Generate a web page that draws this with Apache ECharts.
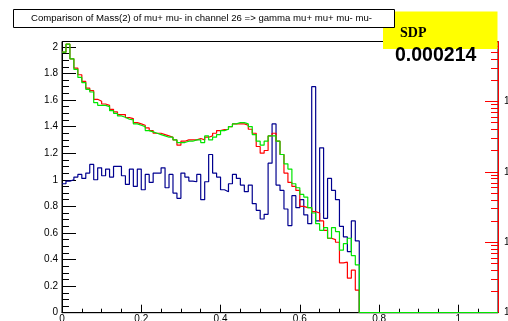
<!DOCTYPE html>
<html><head><meta charset="utf-8">
<script src="https://cdn.jsdelivr.net/npm/echarts@6/dist/echarts.min.js"></script>
<style>html,body{margin:0;padding:0;background:#fff}#c{width:508px;height:321px}</style>
</head><body><div id="c"></div>
<script>
// histogram bins: width 0.01 starting at 0; bins beyond listed values are empty
const binWidth = 0.01;
const xMax = 1.1;
const redValues = [1.96,2.02,1.91,1.84,1.79,1.74,1.69,1.67,1.605,1.59,1.57,1.56,1.53,1.51,1.49,1.49,1.467,1.46,1.43,1.42,
  1.41,1.39,1.37,1.35,1.35,1.34,1.33,1.32,1.30,1.26,1.29,1.30,1.30,1.30,1.31,1.30,1.32,1.33,1.35,1.37,
  1.377,1.38,1.40,1.42,1.42,1.42,1.41,1.38,1.35,1.25,1.20,1.22,1.33,1.35,1.29,1.19,1.05,0.98,0.95,0.92,
  0.80,0.79,0.79,0.76,0.75,0.69,0.62,0.56,0.55,0.53,0.375,0.38,0.26,0.32,0.17];
const greenValues = [1.96,2.02,1.91,1.83,1.77,1.73,1.68,1.66,1.58,1.56,1.56,1.55,1.52,1.50,1.48,1.47,1.455,1.45,1.42,1.41,
  1.40,1.37,1.36,1.35,1.34,1.33,1.32,1.32,1.30,1.28,1.28,1.29,1.29,1.30,1.30,1.28,1.33,1.30,1.32,1.34,
  1.37,1.38,1.40,1.42,1.43,1.43,1.42,1.40,1.34,1.29,1.26,1.29,1.33,1.33,1.29,1.19,1.12,1.08,0.97,0.94,
  0.89,0.87,0.79,0.75,0.67,0.62,0.64,0.56,0.64,0.61,0.47,0.52,0.56,0.43,0.36];
const blueValues = [0.97,0.99,1.00,1.02,1.04,1.01,1.05,1.115,1.00,1.09,1.03,1.08,1.02,1.10,1.10,1.03,0.965,1.08,0.95,1.08,
  0.925,1.04,0.98,1.05,1.05,1.09,0.94,1.04,0.90,0.86,1.05,1.02,0.99,0.985,1.04,0.85,0.985,1.19,1.05,1.02,
  0.925,0.91,0.97,1.04,1.01,0.96,0.91,0.96,0.82,0.77,0.705,0.74,1.125,1.42,0.96,0.92,0.78,0.655,0.88,0.79,
  0.85,0.736,0.67,1.70,0.69,1.24,0.71,1.01,0.92,0.85,0.65,0.57,0.46,0.69,0.54];
const xTickLabels = [0,0.2,0.4,0.6,0.8,1];
const xMinorTicks = [0.05,0.1,0.15,0.25,0.3,0.35,0.45,0.5,0.55,0.65,0.7,0.75,0.85,0.9,0.95,1.05];
const yTickLabels = [0,0.2,0.4,0.6,0.8,1,1.2,1.4,1.6,1.8,2];
const yMinorTicks = [0.05,0.1,0.15,0.25,0.3,0.35,0.45,0.5,0.55,0.65,0.7,0.75,0.85,0.9,0.95,1.05,1.1,1.15,1.25,1.3,1.35,1.45,1.5,1.55,1.65,1.7,1.75,1.85,1.9,1.95];
const logMajor = [1,10,100,1000];
const logMinor = [2,3,4,5,6,7,8,9,20,30,40,50,60,70,80,90,200,300,400,500,600,700,800,900,2000,3000,4000,5000,6000,7000];
const yMax = 2.04;
const logMax = 7100;
const titleText = 'Comparison of Mass(2) of mu+ mu- in channel 26 => gamma mu+ mu+ mu- mu-';
const sdpLabel = 'SDP';
const sdpValue = '0.000214';

function histData(vals){
  const nBins = Math.round(xMax/binWidth);
  const d = [];
  for (let i=0;i<nBins;i++){
    const v = i < vals.length ? vals[i] : 0;
    d.push([+(i*binWidth).toFixed(4), v]);
  }
  d.push([xMax, 0]);
  return d;
}
const F = 'Liberation Sans, Arial, Helvetica, sans-serif';
const chart = echarts.init(document.getElementById('c'), null, {renderer:'canvas'});
const mk = (name,color,vals)=>({name, type:'line', step:'end', xAxisIndex:0, yAxisIndex:0, data:histData(vals),
  symbol:'none', lineStyle:{color, width:1.2}, itemStyle:{color}, animation:false, silent:true, clip:true});
chart.setOption({
  animation:false,
  grid:{left:62, right:10, top:41.5, bottom:8.3, outerBoundsMode:'none', containLabel:false, show:true, borderColor:'#000', borderWidth:1, backgroundColor:'#fff'},
  xAxis:[
    {type:'value', min:0, max:xMax, position:'bottom',
     axisLine:{lineStyle:{color:'#000', width:1}},
     axisTick:{inside:true, length:8, customValues:xTickLabels, lineStyle:{color:'#000'}},
     axisLabel:{customValues:xTickLabels, margin:2, fontSize:10, color:'#000', fontFamily:F,
        formatter:v=>String(v)},
     splitLine:{show:false}},
    {type:'value', min:0, max:xMax, position:'bottom',
     axisLine:{show:false},
     axisTick:{inside:true, length:4, customValues:xMinorTicks, lineStyle:{color:'#000'}},
     axisLabel:{show:false}, splitLine:{show:false}}
  ],
  yAxis:[
    {type:'value', min:0, max:yMax, position:'left',
     axisLine:{lineStyle:{color:'#000'}},
     axisTick:{inside:true, length:14, customValues:yTickLabels, lineStyle:{color:'#000'}},
     axisLabel:{customValues:yTickLabels, margin:4, fontSize:10, color:'#000', fontFamily:F, formatter:v=>String(v)},
     splitLine:{show:false}},
    {type:'value', min:0, max:yMax, position:'left',
     axisLine:{show:false},
     axisTick:{inside:true, length:7, customValues:yMinorTicks, lineStyle:{color:'#000'}},
     axisLabel:{show:false}, splitLine:{show:false}},
    {type:'log', logBase:10, min:1, max:logMax, position:'right',
     axisLine:{lineStyle:{color:'#ff0000'}},
     axisTick:{inside:true, length:13, customValues:logMajor, lineStyle:{color:'#ff0000'}},
     axisLabel:{customValues:logMajor, margin:6, fontSize:10, color:'#000', fontFamily:F, formatter:v=>String(v), padding:[10,0,0,0]},
     splitLine:{show:false}},
    {type:'log', logBase:10, min:1, max:logMax, position:'right',
     axisLine:{show:false},
     axisTick:{inside:true, length:7, customValues:logMinor, lineStyle:{color:'#ff0000'}},
     axisLabel:{show:false}, splitLine:{show:false}}
  ],
  series:[
    mk('blue','#00008f',blueValues),
    mk('red','#ff0000',redValues),
    mk('green','#00e600',greenValues)
  ],
  graphic:[
    {type:'rect', z:100, shape:{x:383, y:11.5, width:114.5, height:37.5}, style:{fill:'#ffff00'}},
    {type:'text', z:101, style:{x:400, y:26, text:sdpLabel, font:'bold 14px "Liberation Serif", "Times New Roman", serif', fill:'#000', textVerticalAlign:'alphabetic'}},
    {type:'text', z:101, style:{x:395, y:45.7, text:sdpValue, font:'bold 19.5px "Liberation Sans", Arial, sans-serif', fill:'#000', textVerticalAlign:'alphabetic'}},
    {type:'rect', z:102, shape:{x:13.5, y:9.5, width:381, height:18}, style:{fill:'#fff', stroke:'#000', lineWidth:1}},
    {type:'text', z:103, style:{x:201.5, y:18.5, text:titleText, font:'9.6px "Liberation Sans", Arial, sans-serif', fill:'#000', textAlign:'center', textVerticalAlign:'middle'}}
  ]
});
</script></body></html>
